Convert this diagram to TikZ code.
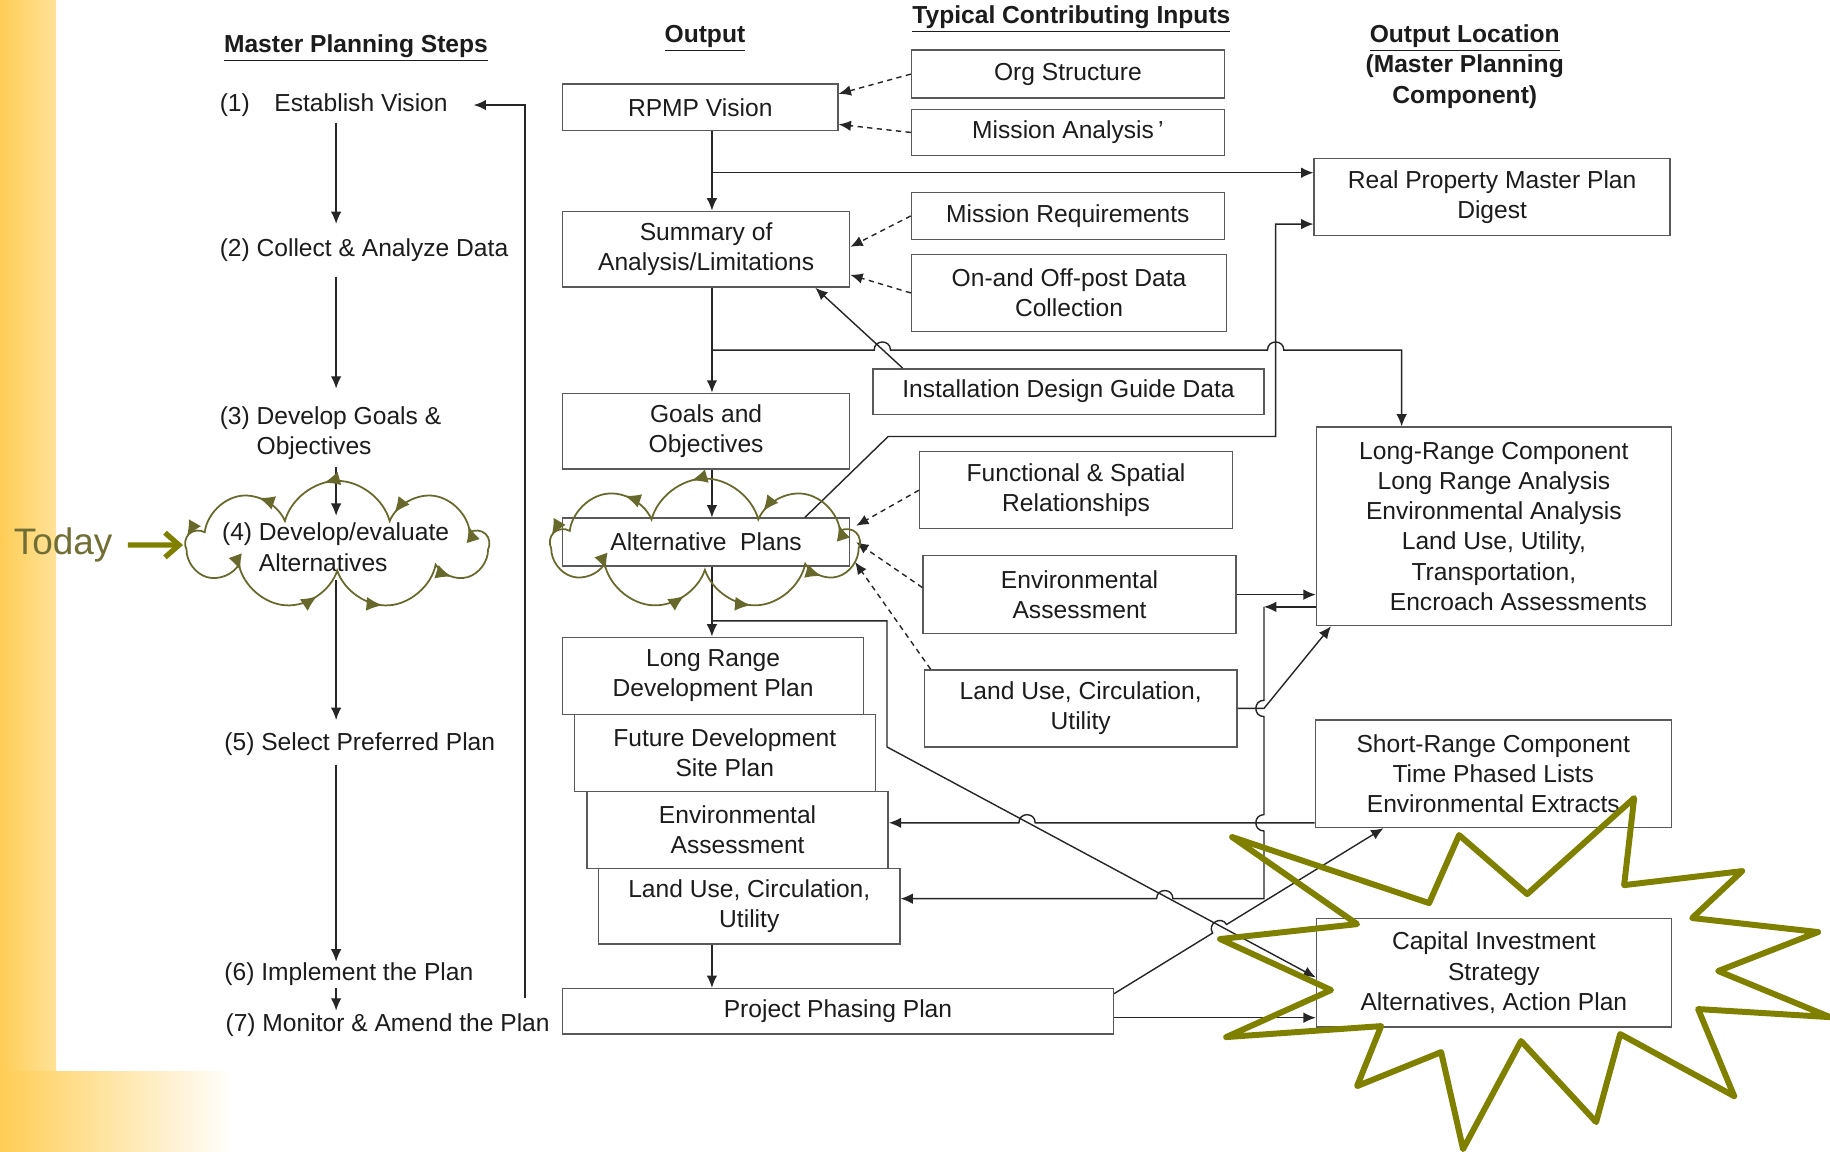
\documentclass[tikz,border=0pt]{standalone}
\usepackage{fontspec}
\setmainfont{Liberation Sans}
\usetikzlibrary{arrows.meta, shapes.symbols, decorations.markings}

\definecolor{ydeep}{RGB}{255,205,85}
\definecolor{ylight}{RGB}{255,226,152}
\definecolor{olivemark}{RGB}{128,128,0}
\definecolor{clouddrab}{RGB}{104,104,44}
\definecolor{todaytext}{RGB}{112,110,52}
\definecolor{inkgray}{RGB}{28,28,28}

\newlength{\mpunit}
\setlength{\mpunit}{0.02334cm}
\newcommand{\mpfont}{\fontsize{14}{17.2}\selectfont}

\tikzset{
  colhead/.style={font=\mpfont\bfseries, inner sep=0pt, align=center, text=inkgray},
  stepnode/.style={font=\mpfont, anchor=west, inner sep=0pt, align=left, text=inkgray},
  outbox/.style 2 args={draw=black!65, line width=0.8pt, font=\mpfont, text=inkgray,
    align=center, inner sep=0pt, minimum width=#1*\mpunit, minimum height=#2*\mpunit},
  wire/.style={draw=black!85, line width=0.8pt},
  dashwire/.style={wire, dash pattern=on 3pt off 2.5pt},
  jumpl/.style={bend left=90, looseness=1.7},
  jumpr/.style={bend right=90, looseness=1.7},
  puffs/.style 2 args={cloud, cloud puffs=9, cloud puff arc=150, cloud ignores aspect,
    draw=clouddrab, color=clouddrab, line width=1pt, inner sep=0pt,
    minimum width=#1*\mpunit, minimum height=#2*\mpunit,
    postaction={decorate, decoration={markings,
      mark=between positions 0.1 and 1 step 0.1111 with {\arrow{Latex[length=9pt,width=8pt]}}}}},
  todayarrow/.style={draw=olivemark, line width=3pt, -{Straight Barb[length=8pt,width=14pt]}},
  starline/.style={draw=olivemark, line width=3.4pt, line join=round}
}

\begin{document}
\begin{tikzpicture}[x=0.02334cm, y=-0.02334cm, >={Latex[length=7pt,width=6pt]}]
    % page and yellow margin
    \useasboundingbox (0,0) rectangle (1568,987);
    \fill[white] (0,0) rectangle (1568,987);
    \shade[left color=ydeep, right color=ylight] (0,0) rectangle (48,918);
    \shade[left color=ydeep, right color=white] (0,918) rectangle (200,987);

    % column headings
    \node[colhead] (hsteps) at (305,41) {\underline{Master Planning Steps}};
    \node[colhead] (hout) at (604,33) {\underline{Output}};
    \node[colhead] (hin) at (918,16) {\underline{Typical Contributing Inputs}};
    \node[colhead] (hloc) at (1255,57) {\underline{Output Location}\\(Master Planning\\Component)};

    % master planning steps
    \node[stepnode] (s1) at (188,90) {(1)\quad Establish Vision};
    \node[stepnode] (s2) at (188,214) {(2) Collect \& Analyze Data};
    \node[stepnode] (s3) at (188,371) {(3) Develop Goals \&\\\phantom{(3) }Objectives};
    \node[stepnode] (s4) at (190,471) {(4) Develop/evaluate\\\phantom{(4) }Alternatives};
    \node[stepnode] (s5) at (192,638) {(5) Select Preferred Plan};
    \node[stepnode] (s6) at (192,835) {(6) Implement the Plan};
    \node[stepnode] (s7) at (193,878) {(7) Monitor \& Amend the Plan};

    % output column
    \node[outbox={236}{40}] (vision) at (600,92) {RPMP Vision};
    \node[outbox={246}{65}] (summary) at (605,213.5) {Summary of\\Analysis/Limitations};
    \node[outbox={246}{65}] (goals) at (605,369.5) {Goals and\\Objectives};
    \node[outbox={246}{41}] (altplans) at (605,464.5) {Alternative\ \ Plans};
    \node[outbox={258}{66}] (lrdp) at (611,579) {Long Range\\Development Plan};
    \node[outbox={258}{66}] (fdsp) at (621,645) {Future Development\\Site Plan};
    \node[outbox={258}{66}] (envout) at (632,711) {Environmental\\Assessment};
    \node[outbox={258}{65}] (landout) at (642,776.5) {Land Use, Circulation,\\Utility};
    \node[outbox={472}{39}] (phasing) at (718,866.5) {Project Phasing Plan};

    % contributing inputs
    \node[outbox={268}{41}] (org) at (915,63.5) {Org Structure};
    \node[outbox={268}{39}] (mission) at (915,113.5) {Mission Analysis\,'};
    \node[outbox={268}{40}] (missreq) at (915,185) {Mission Requirements};
    \node[outbox={270}{66}] (onoff) at (916,251) {On-and Off-post Data\\Collection};
    \node[outbox={335}{39}] (idg) at (915.5,335.5) {Installation Design Guide Data};
    \node[outbox={268}{66}] (func) at (922,420) {Functional \& Spatial\\Relationships};
    \node[outbox={268}{67}] (envin) at (925,509.5) {Environmental\\Assessment};
    \node[outbox={268}{66}] (landin) at (926,607) {Land Use, Circulation,\\Utility};

    % output location
    \node[outbox={305}{66}] (digest) at (1278.5,169) {Real Property Master Plan\\Digest};
    \node[outbox={304}{170}] (lrc) at (1280,451) {Long-Range Component\\Long Range Analysis\\Environmental Analysis\\Land Use, Utility,\\Transportation,\\\hspace*{42\mpunit}Encroach Assessments};
    \node[outbox={305}{92}] (src) at (1279.5,663) {Short-Range Component\\Time Phased Lists\\Environmental Extracts};
    \node[outbox={304}{93}] (cis) at (1280,833.5) {Capital Investment\\Strategy\\Alternatives, Action Plan};

    % step arrows
    \coordinate (stepx) at (288,0);
    \draw[wire, ->, shorten <=5*\mpunit, shorten >=12*\mpunit] (s1.south -| stepx) -- (s2.north -| stepx);
    \draw[wire, ->, shorten <=13*\mpunit, shorten >=15*\mpunit] (s2.south -| stepx) -- (s3.north -| stepx);
    \draw[wire, ->, shorten <=6*\mpunit, shorten >=6*\mpunit] (s3.south -| stepx) -- (s4.north -| stepx);
    \draw[wire, ->, shorten <=3*\mpunit, shorten >=11*\mpunit] (s4.south -| stepx) -- (s5.north -| stepx);
    \draw[wire, ->, shorten <=7*\mpunit, shorten >=1*\mpunit] (s5.south -| stepx) -- (s6.north -| stepx);
    \draw[wire, ->, shorten <=1*\mpunit, shorten >=2*\mpunit] (s6.south -| stepx) -- (s7.north -| stepx);
    \coordinate (loopfoot) at (450,855);
    \draw[wire, line width=1pt, ->] (loopfoot) |- ([xshift=22*\mpunit]s1.east);

    % output spine
    \coordinate (spine) at (610,0);
    \draw[wire, ->] (vision.south -| spine) -- (summary.north -| spine);
    \draw[wire, ->] (summary.south -| spine) -- (goals.north -| spine);
    \draw[wire, ->] (goals.south -| spine) -- (altplans.north -| spine);
    \draw[wire, ->] (altplans.south -| spine) -- (lrdp.north -| spine);
    \draw[wire, ->] (landout.south -| spine) -- (phasing.north -| spine);
    \draw[wire, ->] (spine |- 0,148) -- (digest.west |- 0,148);
    \draw[wire, ->] (spine |- 0,300) -- (749,300) to[jumpl] (763,300) -- (1086,300) to[jumpl] (1100,300)
        -- (1201,300) -- (lrc.north -| 1201,0);
    \draw[wire, ->] (spine |- 0,532) -- (760,532) -- (760,640) -- ([yshift=-4*\mpunit]cis.west);

    % inputs
    \draw[dashwire, ->] (org.west) -- ([yshift=-9*\mpunit]vision.north east);
    \draw[dashwire, ->] (mission.west) -- ([yshift=6*\mpunit]vision.south east);
    \draw[dashwire, ->] (missreq.west) -- ([yshift=2*\mpunit]summary.east);
    \draw[dashwire, ->] (onoff.west) -- ([yshift=-22*\mpunit]summary.east);
    \draw[wire, ->] ([xshift=26*\mpunit]idg.north west) -- ([xshift=-30*\mpunit]summary.south east);
    \draw[dashwire, ->] (func.west) -- ([xshift=5*\mpunit, yshift=14*\mpunit]altplans.east);
    \draw[dashwire, ->] ([yshift=6*\mpunit]envin.west) -- ([xshift=5*\mpunit]altplans.east);
    \draw[dashwire, ->] ([xshift=6*\mpunit]landin.north west) -- ([xshift=4*\mpunit, yshift=-17*\mpunit]altplans.east);

    % to the master plan components
    \draw[wire, ->] ([xshift=-39*\mpunit]altplans.north east) -- (761,374) -- (1093,374) -- (1093,192) -- (digest.west |- 0,192);
    \draw[wire, ->] (envin.east) -- (envin.east -| lrc.west);
    \coordinate (lrcout) at ([yshift=-69*\mpunit]lrc.west);
    \draw[wire, ->] (lrcout) -- (lrcout -| 1083,0);
    \draw[wire, ->] (lrcout -| 1083,0) -- (1083,600) to[jumpr] (1083,614) -- (1083,698) to[jumpr] (1083,712)
        -- (1083,770) -- (1005,770) to[jumpr] (991,770) -- (landout.east |- 0,770);
    \draw[wire, ->] (landin.east) -- (1083,607) -- ([xshift=13*\mpunit]lrc.south west);
    \draw[wire, ->] (src.west |- 0,705) -- (887,705) to[jumpr] (873,705) -- (envout.east |- 0,705);
    \draw[wire, ->] ([yshift=-5*\mpunit]phasing.north east) -- (1039,799.5) to[jumpl] (1051,792.1)
        -- ([xshift=59*\mpunit]src.south west);
    \coordinate (ppout) at ([yshift=-5.5*\mpunit]phasing.east);
    \draw[wire, ->] (ppout) -- (ppout -| cis.west);

    % clouds and today marker
    \node[puffs={258}{110}] (lcloud) at (289,467) {};
    \node[puffs={263}{112}] (rcloud) at (604,466) {};
    \node[font=\fontsize{21}{24}\selectfont, text=todaytext, inner sep=0pt] (today) at (54,467) {Today};
    \draw[todayarrow, shorten <=13*\mpunit, shorten >=1*\mpunit] (today) -- (lcloud);

    % starburst
    \draw[starline] (1055.7,717.2) -- (1224.5,773.8) -- (1250.2,715.5) -- (1308.5,766.1)
        -- (1400.2,683.8) -- (1391.6,758.4) -- (1492.7,746.4) -- (1449.9,786.6)
        -- (1557.8,798.6) -- (1472.2,832.0) -- (1568,871.5) -- (1455.0,864.6)
        -- (1485.9,939.2) -- (1388.2,886.0) -- (1367.6,961.4) -- (1303.3,892.0)
        -- (1253.6,984.6) -- (1234.8,901.5) -- (1162.8,930.6) -- (1183.4,879.2)
        -- (1050.6,888.6) -- (1140.5,848.3) -- (1045.4,804.6) -- (1162.8,791.8) -- cycle;
\end{tikzpicture}
\end{document}
